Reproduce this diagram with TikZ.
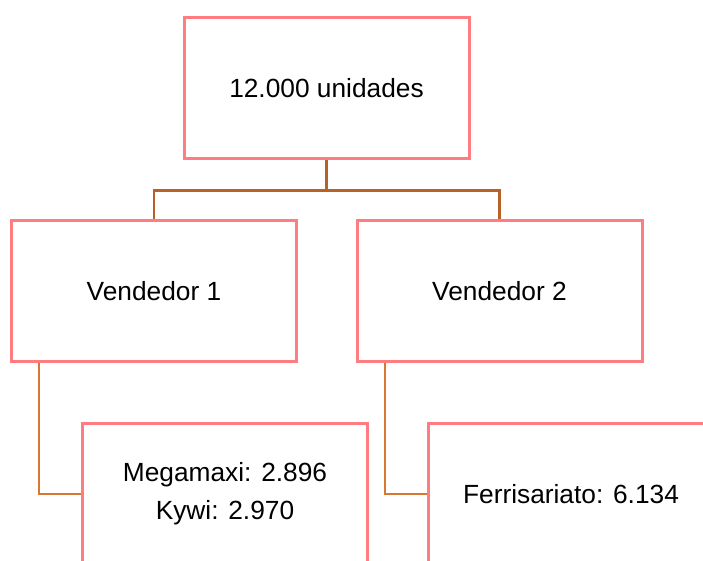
\documentclass[tikz,border=0pt]{standalone}
\usepackage{fontspec}
\setmainfont{Liberation Sans}
\usetikzlibrary{calc}
\definecolor{boxpink}{RGB}{255,124,128}
\definecolor{linkdark}{RGB}{184,98,40}
\definecolor{linklight}{RGB}{217,120,50}
\begin{document}
\begin{tikzpicture}[x=1pt,y=-1pt,
  orgbox/.style={draw=boxpink,line width=3pt,fill=white,rectangle,
    minimum width=285pt,minimum height=141pt,inner sep=0pt,align=center,
    font=\fontsize{26.3pt}{38pt}\selectfont},
  linktop/.style={draw=linkdark,line width=2.2pt},
  linkbot/.style={draw=linklight,line width=2pt}]
\useasboundingbox (0,0) rectangle (703,561);
\clip (0,0) rectangle (703,561);
\node[orgbox] (top) at (326.5,88.5) {12.000 unidades};
\node[orgbox] (v1) at (154,291) {Vendedor 1};
\node[orgbox] (v2) at (499.5,291) {Vendedor 2};
\node[orgbox] (b1) at (225,494) {Megamaxi: 2.896\\Kywi: 2.970};
\node[orgbox] (b2) at (571,494) {Ferrisariato: 6.134};
\coordinate (j) at ($(top.south)+(0,30)$);
\coordinate (s1) at ($(v1.south west)+(29,0)$);
\coordinate (s2) at ($(v2.south west)+(29,0)$);
\draw[linktop] (top.south) -- (j);
\draw[linktop] (j) -| (v1.north);
\draw[linktop] (j) -| (v2.north);
\draw[linkbot] (s1) |- (b1.west);
\draw[linkbot] (s2) |- (b2.west);
\end{tikzpicture}
\end{document}
